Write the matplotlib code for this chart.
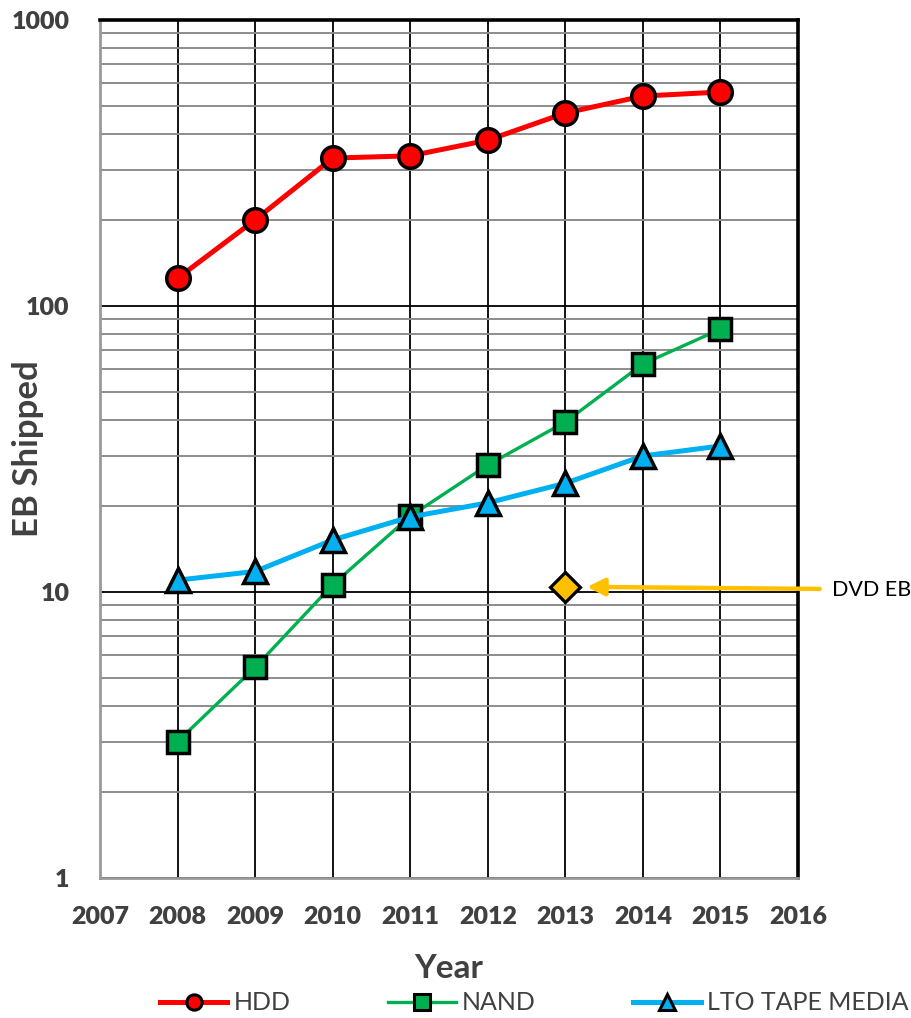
import matplotlib
matplotlib.use("Agg")
import matplotlib.pyplot as plt
from matplotlib.ticker import FixedLocator, LogLocator, NullFormatter
from matplotlib.lines import Line2D

years = [2008, 2009, 2010, 2011, 2012, 2013, 2014, 2015]
hdd = [125, 200, 329, 335, 380, 473, 542, 560]
nand = [3.0, 5.45, 10.6, 18.4, 27.8, 39.3, 62.7, 83.0]
lto = [11.0, 11.8, 15.2, 18.3, 20.5, 24.0, 29.9, 32.4]
dvd_year = [2013]
dvd_eb = [10.45]
xticks = list(range(2007, 2017))
yticks = [1, 10, 100, 1000]

RED = "#FF0000"
GREEN = "#00B050"
BLUE = "#00B0F0"
GOLD = "#FFC000"
TXT = "#404040"

plt.rcParams["font.family"] = ["Lato", "DejaVu Sans"]

fig = plt.figure(figsize=(9.12, 10.18), dpi=100)
ax = fig.add_axes([100 / 912, 1 - 878 / 1018, 698 / 912, 858 / 1018])

ax.set_yscale("log")
ax.set_xlim(2007, 2016)
ax.set_ylim(1, 1000)

# grid: black majors, grey minors on the log axis
ax.yaxis.set_major_locator(FixedLocator(yticks))
ax.yaxis.set_minor_locator(LogLocator(base=10, subs=range(2, 10)))
ax.yaxis.set_minor_formatter(NullFormatter())
ax.xaxis.set_major_locator(FixedLocator(xticks))
ax.grid(True, which="major", axis="both", color="black", lw=1.3, zorder=0)
ax.grid(True, which="minor", axis="y", color="#8c8c8c", lw=1.4, zorder=0)
ax.set_axisbelow(True)

ax.set_yticklabels([str(v) for v in yticks])
ax.set_xticklabels([str(v) for v in xticks])
ax.tick_params(axis="both", which="both", length=0)
ax.tick_params(axis="y", pad=22, labelsize=18, labelcolor=TXT)
ax.tick_params(axis="x", pad=20, labelsize=18, labelcolor=TXT)
for lab in ax.get_xticklabels() + ax.get_yticklabels():
    lab.set_fontweight("heavy")

for side in ("top", "right"):
    ax.spines[side].set_color("black")
    ax.spines[side].set_linewidth(2.6)
for side in ("left", "bottom"):
    ax.spines[side].set_color("#999999")
    ax.spines[side].set_linewidth(2.0)

ax.plot(years, hdd, color=RED, lw=3.6, marker="o", ms=17, mfc=RED,
        mec="black", mew=2.5, zorder=5, clip_on=False)
ax.plot(years, nand, color=GREEN, lw=2.4, marker="s", ms=16, mfc=GREEN,
        mec="black", mew=2.5, zorder=5, clip_on=False)
ax.plot(years, lto, color=BLUE, lw=3.6, marker="^", ms=17, mfc=BLUE,
        mec="black", mew=2.5, zorder=5, clip_on=False)
ax.plot(dvd_year, dvd_eb, ls="none", marker="D", ms=15, mfc=GOLD,
        mec="black", mew=2.3, zorder=6)

# DVD callout
ax.annotate("", xy=(2013.28, 10.42), xytext=(2016.28, 10.25),
            arrowprops=dict(arrowstyle="-|>", color=GOLD, lw=3.2,
                            mutation_scale=26, shrinkA=0, shrinkB=0),
            annotation_clip=False, zorder=7)
ax.text(2016.44, 10.2, "DVD EB", fontsize=15.5, color="black",
        va="center", ha="left", clip_on=False)

ax.set_ylabel("EB Shipped", fontsize=25, fontweight="bold", color=TXT)
ax.yaxis.set_label_coords(-0.08, 0.5)
ax.set_xlabel("Year", fontsize=24, fontweight="bold", color=TXT)
ax.xaxis.set_label_coords(0.5, -0.088)

handles = [
    Line2D([], [], color=RED, lw=3.6, marker="o", ms=11, mfc=RED,
           mec="black", mew=2.2),
    Line2D([], [], color=GREEN, lw=2.4, marker="s", ms=11, mfc=GREEN,
           mec="black", mew=2.2),
    Line2D([], [], color=BLUE, lw=3.6, marker="^", ms=11, mfc=BLUE,
           mec="black", mew=2.2),
]
leg = fig.legend(handles, ["HDD", "NAND", "LTO TAPE MEDIA"],
                 loc="center left",
                 bbox_to_anchor=(160 / 912, 1 - 1003 / 1018), ncol=3,
                 frameon=False, fontsize=18, handlelength=2.7,
                 handletextpad=0.25, columnspacing=3.9, borderpad=0,
                 borderaxespad=0)
for t in leg.get_texts():
    t.set_color(TXT)

fig.savefig("out.png", dpi=100)
